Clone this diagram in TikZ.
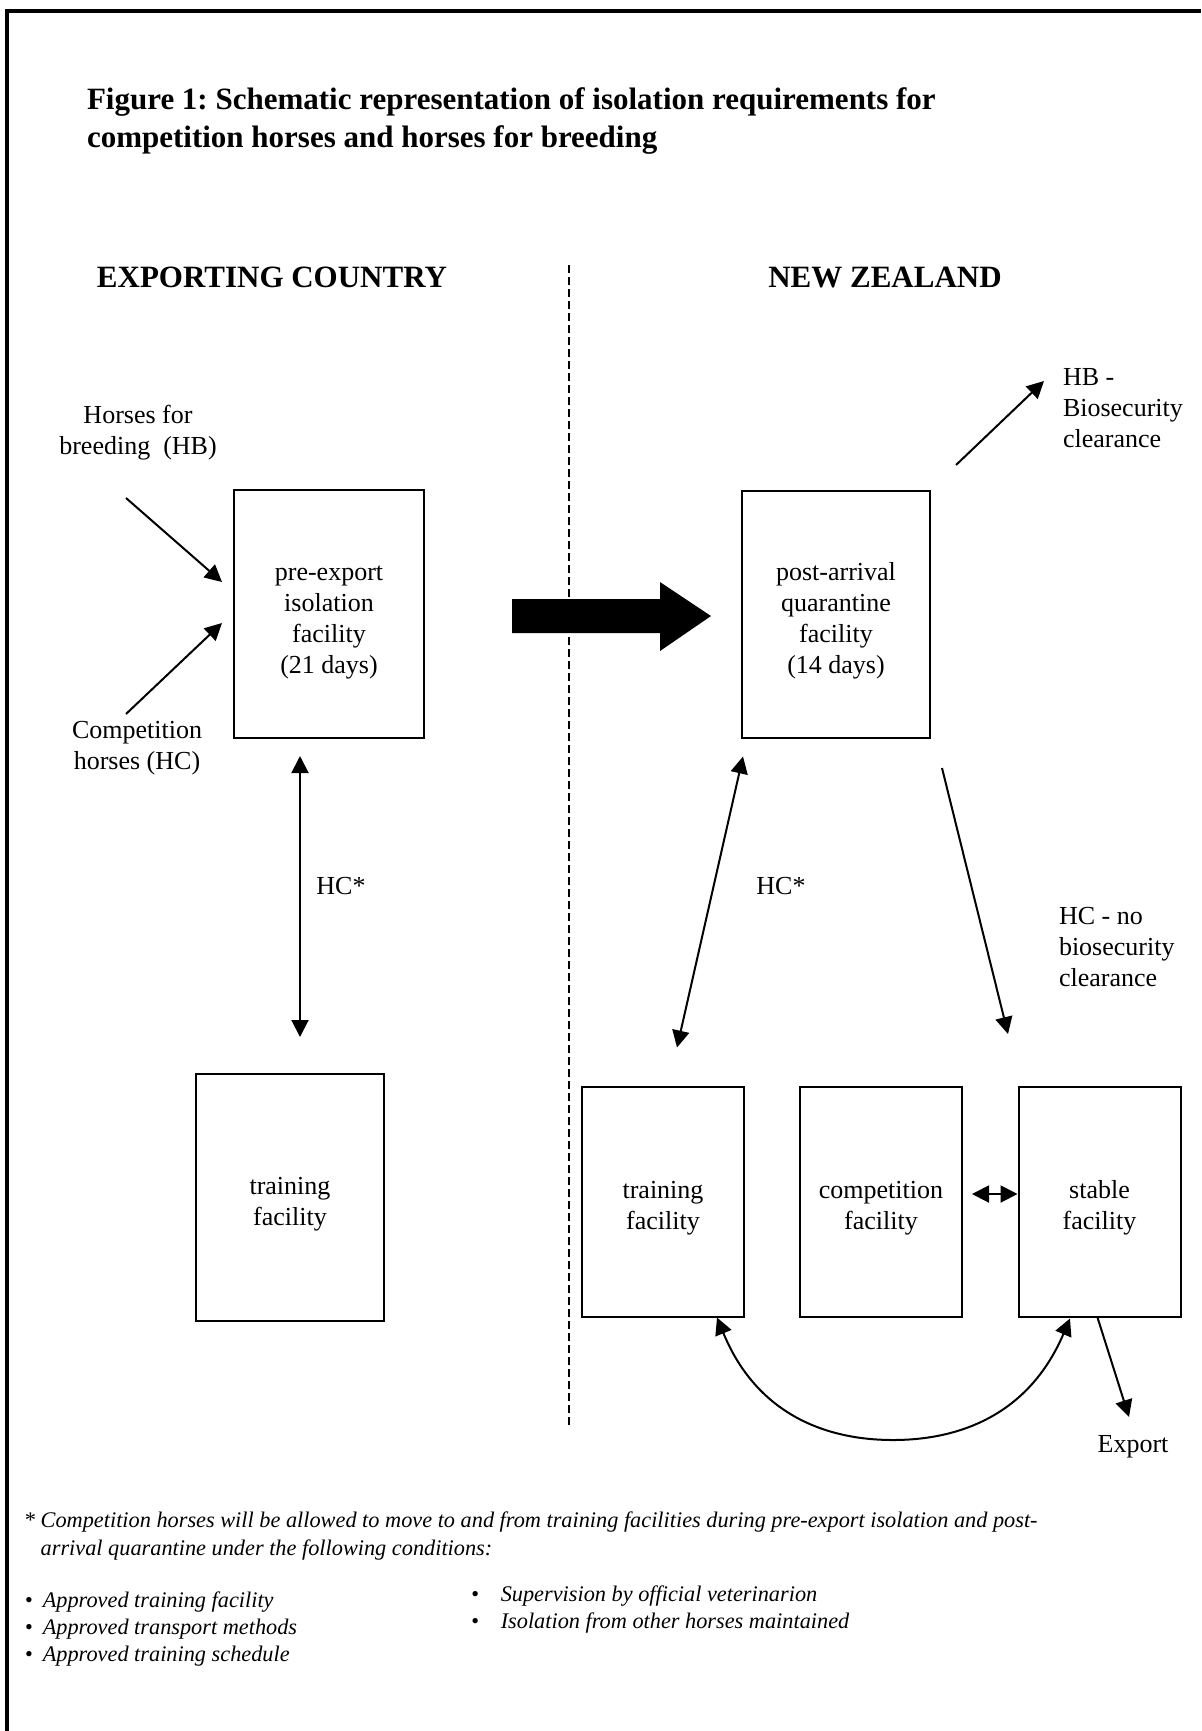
\documentclass[tikz,border=0pt]{standalone}
\usepackage{fontspec}
\setmainfont{Liberation Serif}
\usetikzlibrary{arrows.meta,calc}
\frenchspacing

\newcommand{\titlefont}{\fontsize{15.5}{19.3}\selectfont\bfseries}
\newcommand{\headfont}{\fontsize{15.5}{18}\selectfont\bfseries}
\newcommand{\bodyfont}{\fontsize{13}{15.6}\selectfont}
\newcommand{\notefont}{\fontsize{11.15}{14}\selectfont\itshape}
\newcommand{\listfont}{\fontsize{11.15}{13.5}\selectfont\itshape}
% taller first line, so the box text sits a little low as in the original
\newcommand{\lowtext}{\rule{0pt}{15.6pt}}

\tikzset{
    facility/.style={draw, line width=1pt, align=center, inner sep=0pt, font=\bodyfont,
        minimum width=94pt, minimum height=124pt},
    smallfacility/.style={facility, minimum width=81pt, minimum height=115pt},
    plain/.style={inner sep=0pt, font=\bodyfont},
    heading/.style={inner sep=0pt, anchor=base, font=\headfont},
    note/.style={inner sep=0pt, anchor=west, align=left, font=\notefont}
}

\begin{document}
\begin{tikzpicture}[x=0.5pt, y=-0.5pt, line width=1pt,
    >={Triangle[length=8.5pt,width=8.5pt]}]
    \useasboundingbox (0,0) rectangle (1201,1731);

    % Frame, only top and left edges are on the page
    \draw[line width=1.6pt] (7,1731) -- (7,11) -- (1201,11);

    % Title
    \node[inner sep=0pt, anchor=west, align=left, font=\titlefont] (title) at (86,121)
        {Figure 1: Schematic representation of isolation requirements for\\competition horses and horses for breeding};

    % Country headings and border
    \node[heading] (exporting) at (272,287) {EXPORTING COUNTRY};
    \node[heading] (newzealand) at (885,287) {NEW ZEALAND};
    \draw[line width=0.8pt, dash pattern=on 4pt off 2pt] (569,265) coordinate (borderTop) -- (569,1425) coordinate (borderBottom);

    % Exporting country
    \node[plain, align=center] (hbIn) at (138,433) {Horses for\\breeding\ \ (HB)};
    \node[plain, align=center] (hcIn) at (137,748) {Competition\\horses (HC)};
    \node[facility, minimum width=95pt] (pre) at (329,614) {\lowtext pre-export\\isolation\\facility\\(21 days)};
    \node[facility, minimum height=123.5pt] (trainEx) at (290,1197.5) {\lowtext training\\facility};
    \node[plain] (hcEx) at (341,886) {HC*};

    \coordinate (hbTail) at (126,498);
    \coordinate (hbTip) at (222,582);
    \coordinate (hcTail) at (126,714);
    \coordinate (hcTip) at (222,623);
    \draw[->] (hbTail) -- (hbTip);
    \draw[->] (hcTail) -- (hcTip);
    \draw[<->] ($(pre.south)+(-29,17)$) -- ($(trainEx.north)+(10,-36)$);

    % Shipment
    \fill (512,599) -- (660,599) -- (660,582) -- (711,616) -- (660,651) -- (660,633) -- (512,633) -- cycle;

    % New Zealand
    \node[facility, minimum height=123.5pt] (post) at (836,614) {\lowtext post-arrival\\quarantine\\facility\\(14 days)};
    \node[smallfacility] (trainNZ) at (663,1201.5) {\lowtext training\\facility};
    \node[smallfacility] (comp) at (881,1201.5) {\lowtext competition\\facility};
    \node[smallfacility] (stable) at (1099.5,1201.5) {\lowtext stable\\facility};
    \node[plain] (hcNZ) at (781,886) {HC*};
    \node[plain, anchor=west, align=left] (hbOut) at (1062,408) {HB -\\Biosecurity\\clearance};
    \node[plain, anchor=west, align=left] (hcOut) at (1058,947) {HC - no\\biosecurity\\clearance};
    \node[plain, anchor=base] (export) at (1133,1452) {Export};

    \coordinate (hbOutTail) at (956,465);
    \coordinate (hbOutTip) at (1044,381);
    \coordinate (hcOutTail) at (942,768);
    \coordinate (hcOutTip) at (1008,1034);
    \coordinate (exportTip) at (1129,1417);
    \draw[->] (hbOutTail) -- (hbOutTip);
    \draw[->] (hcOutTail) -- (hcOutTip);
    \draw[<->] ($(post.south)+(-93,18)$) -- ($(trainNZ.north)+(14,-38)$);
    \draw[<->] ($(comp.east)+(9,-7.5)$) -- ($(stable.west)+(0,-7.5)$);
    \draw[->] ($(stable.south)+(-2,0)$) -- (exportTip);

    % Loop between training and stable
    \coordinate (loopA) at ($(trainNZ.south)+(54,0)$);
    \coordinate (loopB) at ($(stable.south)+(-29.5,1)$);
    \draw[<->] (loopA) .. controls (755,1410) and (820,1440) .. (893,1440)
        .. controls (966,1440) and (1031,1410) .. (loopB);

    % Footnote
    \node[note] (footnote) at (23,1536)
        {*~Competition horses will be allowed to move to and from training facilities during pre-export isolation and post-\\\phantom{*~}arrival quarantine under the following conditions:};
    \node[note, font=\listfont] (condLeft) at (24,1629)
        {\textbullet\hspace{5pt}Approved training facility\\\textbullet\hspace{5pt}Approved transport methods\\\textbullet\hspace{5pt}Approved training schedule};
    \node[note, font=\listfont] (condRight) at (470,1610)
        {\textbullet\hspace{11pt}Supervision by official veterinarion\\\textbullet\hspace{11pt}Isolation from other horses maintained};
\end{tikzpicture}
\end{document}
